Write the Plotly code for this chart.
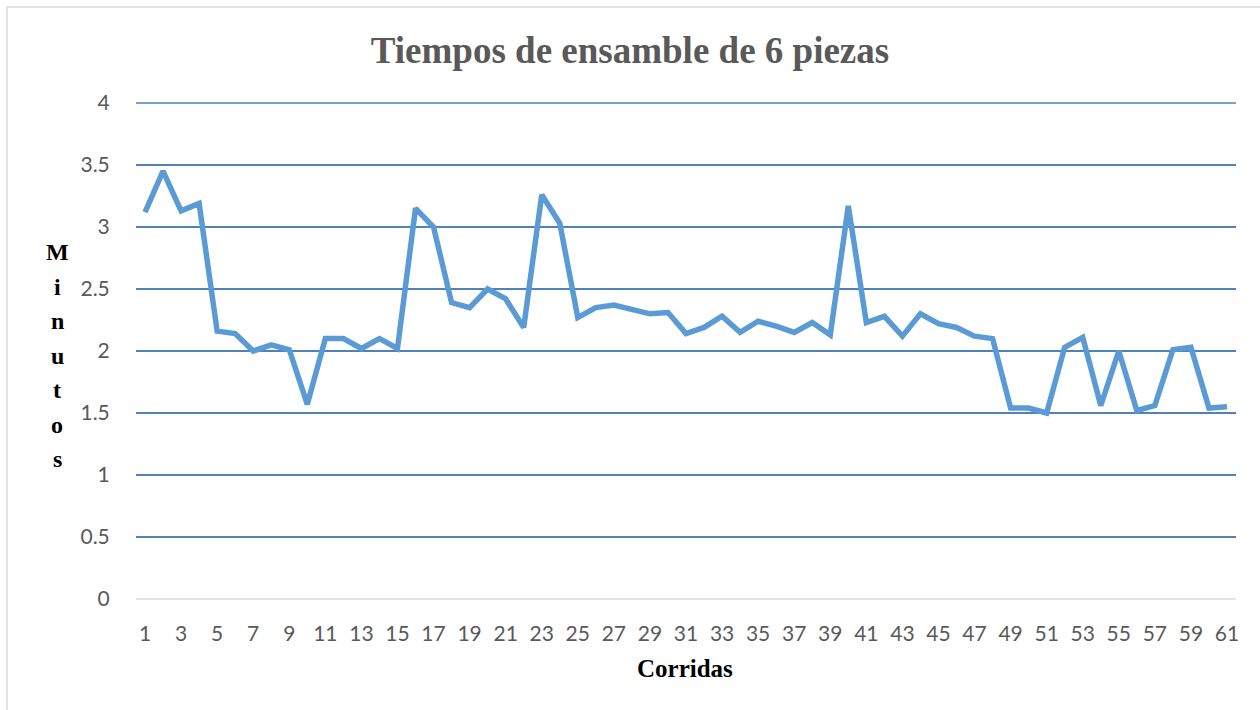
import plotly.graph_objects as go

corridas = list(range(1, 62))
minutos = [3.12, 3.45, 3.13, 3.19, 2.16, 2.14, 2.00, 2.05, 2.01, 1.57,
           2.10, 2.10, 2.02, 2.10, 2.02, 3.15, 3.00, 2.39, 2.35, 2.50,
           2.42, 2.19, 3.26, 3.03, 2.27, 2.35, 2.37, 2.34, 2.30, 2.31,
           2.14, 2.19, 2.28, 2.15, 2.24, 2.20, 2.15, 2.23, 2.13, 3.17,
           2.23, 2.28, 2.12, 2.30, 2.22, 2.19, 2.12, 2.10, 1.54, 1.54,
           1.50, 2.03, 2.11, 1.56, 2.00, 1.52, 1.56, 2.01, 2.03, 1.54,
           1.55]
x_ticks = list(range(1, 62, 2))
y_ticks = [0, 0.5, 1, 1.5, 2, 2.5, 3, 3.5, 4]
y_tick_text = ["0", "0.5", "1", "1.5", "2", "2.5", "3", "3.5", "4"]

title_text = "Tiempos de ensamble de 6 piezas"
y_label = "Minutos"
x_label = "Corridas"

fig = go.Figure()
fig.add_trace(go.Scatter(x=corridas, y=minutos, mode="lines",
                         line=dict(color="#5B9BD5", width=5.5),
                         hoverinfo="x+y", showlegend=False))

W, H = 1260, 710
L, R, T, B = 136, 24, 103, 111
pw, ph = W - L - R, H - T - B

fig.update_layout(
    width=W, height=H,
    margin=dict(l=L, r=R, t=T, b=B),
    paper_bgcolor="white", plot_bgcolor="white",
    title=dict(text="<b>" + title_text + "</b>", x=0.5, xanchor="center",
               y=1 - 50 / H, yanchor="middle",
               font=dict(family="Liberation Serif", size=37, color="#595959")),
    xaxis=dict(range=[0.5, 61.5], tickmode="array", tickvals=x_ticks,
               ticktext=[str(v) for v in x_ticks], showgrid=False,
               zeroline=False, showline=False, ticks="outside",
               ticklen=16, tickcolor="rgba(0,0,0,0)",
               tickfont=dict(family="Lato", size=21, color="#595959")),
    yaxis=dict(range=[0, 4], tickmode="array", tickvals=y_ticks,
               ticktext=y_tick_text, showgrid=True, gridcolor="#4F81BD",
               gridwidth=1.5, zeroline=False, showline=False,
               ticks="outside", ticklen=21, tickcolor="rgba(0,0,0,0)",
               tickfont=dict(family="Lato", size=21, color="#595959")),
    font=dict(family="Lato"),
)

# top gridline (at range edge) and light grey baseline
fig.add_shape(type="line", xref="paper", yref="paper", x0=0, x1=1, y0=1, y1=1,
              line=dict(color="#4F81BD", width=1.5))
fig.add_shape(type="line", xref="paper", yref="paper", x0=0, x1=1, y0=0, y1=0,
              line=dict(color="#D9D9D9", width=1.5))

# outer chart border
fig.add_shape(type="rect", xref="paper", yref="paper",
              x0=(7 - L) / pw, x1=(1275 - L) / pw,
              y0=(H - B - 725) / ph, y1=(H - B - 7) / ph,
              line=dict(color="#D9D9D9", width=1.5), layer="below")

# vertical, letter-by-letter axis title
letters = list(y_label)
y_first, y_last = 252, 459
step = (y_last - y_first) / (len(letters) - 1)
for i, ch in enumerate(letters):
    fig.add_annotation(text="<b>" + ch + "</b>", xref="paper", yref="paper",
                       x=(57 - L) / pw, y=(H - B - (y_first + i * step)) / ph,
                       xanchor="center", yanchor="middle", showarrow=False,
                       font=dict(family="Liberation Serif", size=24, color="#000000"))

fig.add_annotation(text="<b>" + x_label + "</b>", xref="paper", yref="paper",
                   x=(685 - L) / pw, y=(H - B - 668) / ph,
                   xanchor="center", yanchor="middle", showarrow=False,
                   font=dict(family="Liberation Serif", size=25, color="#000000"))

fig.write_html("out.html", config={"displayModeBar": False},
               post_script="document.body.style.margin='0px';")
